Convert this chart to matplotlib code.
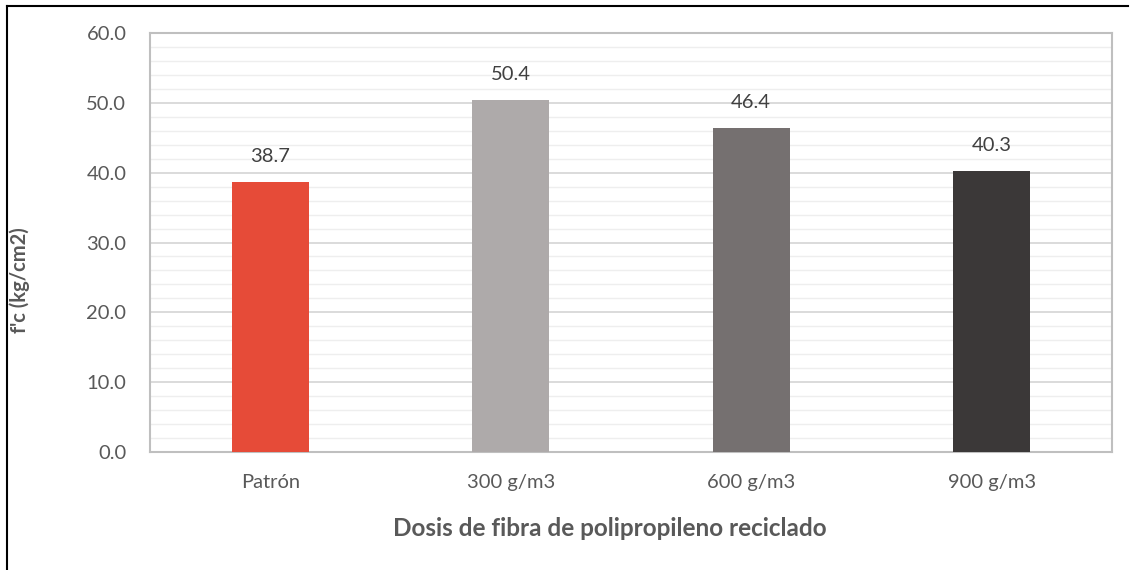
import matplotlib
matplotlib.use("Agg")
import matplotlib.pyplot as plt
from matplotlib.ticker import MultipleLocator, FormatStrFormatter
from matplotlib.lines import Line2D

categories = ["Patrón", "300 g/m3", "600 g/m3", "900 g/m3"]
values = [38.7, 50.4, 46.4, 40.3]
colors = ["#E64B38", "#AEAAAA", "#757070", "#3B3838"]

plt.rcParams["font.family"] = ["Lato", "DejaVu Sans"]

W, H = 1134, 570
fig = plt.figure(figsize=(W / 100, H / 100), dpi=100)
ax = fig.add_axes([150 / W, 1 - 452 / H, (1112 - 150) / W, (452 - 33) / H])

x = range(len(categories))
bars = ax.bar(x, values, width=0.32, color=colors, zorder=3)

ax.set_xlim(-0.5, len(categories) - 0.5)
ax.set_ylim(0, 60)
ax.yaxis.set_major_locator(MultipleLocator(10))
ax.yaxis.set_minor_locator(MultipleLocator(2))
ax.yaxis.set_major_formatter(FormatStrFormatter("%.1f"))
ax.grid(which="major", axis="y", color="#D4D4D4", linewidth=1.2, zorder=1)
ax.grid(which="minor", axis="y", color="#EEEEEE", linewidth=1.0, zorder=1)
ax.tick_params(axis="both", which="both", length=0, colors="#595959", labelsize=14.5)
ax.tick_params(axis="y", pad=17)
ax.tick_params(axis="x", pad=16)
ax.set_xticks(list(x))
ax.set_xticklabels(categories)
for s in ax.spines.values():
    s.set_color("#BFBFBF")
    s.set_linewidth(1.5)

for rect, v in zip(bars, values):
    ax.annotate(f"{v:.1f}", (rect.get_x() + rect.get_width() / 2, v),
                xytext=(0, 12), textcoords="offset points", ha="center",
                va="bottom", fontsize=14.5, color="#404040")

# axis titles placed in figure pixel coordinates
fig.text(20 / W, 1 - 280 / H, "f'c (kg/cm2)", rotation=90, ha="center", va="center",
         fontsize=14.5, fontweight="bold", color="#595959")
fig.text(610 / W, 1 - 528 / H, "Dosis de fibra de polipropileno reciclado",
         ha="center", va="center", fontsize=17.5, fontweight="bold", color="#595959")

# outer frame lines (left and top)
fig.add_artist(Line2D([7 / W, 7 / W], [0, 1 - 6 / H], color="black", linewidth=1.5,
                      transform=fig.transFigure))
fig.add_artist(Line2D([7 / W, 1128 / W], [1 - 6 / H, 1 - 6 / H], color="black",
                      linewidth=1.5, transform=fig.transFigure))

fig.savefig("out.png", dpi=100, facecolor="white")
